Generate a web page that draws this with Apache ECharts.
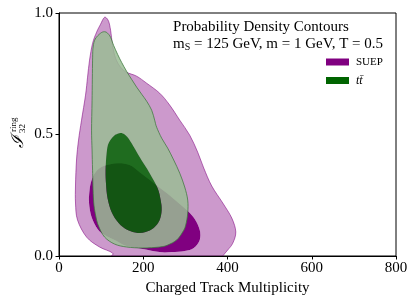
<!DOCTYPE html>
<html><head><meta charset="utf-8">
<script src="https://cdn.jsdelivr.net/npm/echarts@6/dist/echarts.min.js"></script>
<style>html,body{margin:0;padding:0;background:#fff}#c{width:416px;height:305px}</style>
</head><body><div id="c"></div>
<script>
// ---- data (x = charged track multiplicity, y = I_32^ring) ----
const xTicks = [0, 200, 400, 600, 800];
const yTicks = [0.0, 0.5, 1.0];
const seriesNames = ['SUEP', 'tt\u0304'];

// SUEP: outer (lower density) contour
const suepOuter = [
  [110.6,0.982],[117.7,0.966],[122.5,0.929],[127.2,0.867],[134.3,0.814],[146.2,0.777],
  [160.5,0.756],[184.3,0.740],[208.1,0.711],[239.0,0.670],[262.8,0.621],[286.6,0.559],
  [310.4,0.497],[329.3,0.427],[343.6,0.362],[362.6,0.288],[388.8,0.218],[410.2,0.156],
  [419.7,0.099],[412.6,0.053],[400.7,0.025],[388.8,0.0],[381.6,-0.025],[139.1,-0.025],
  [127.2,0.012],[96.3,0.037],[65.4,0.078],[44.0,0.148],[39.2,0.218],[39.2,0.292],
  [41.6,0.395],[46.4,0.477],[53.5,0.559],[63.0,0.662],[67.8,0.736],[72.5,0.806],
  [79.7,0.875],[89.2,0.921],[98.7,0.954],[105.8,0.978]
];
// SUEP: inner (higher density) contour
const suepInner = [
  [77.3,0.312],[86.8,0.345],[105.8,0.370],[139.1,0.382],[167.6,0.374],[191.4,0.345],
  [222.3,0.304],[255.6,0.259],[286.6,0.214],[305.6,0.185],[322.2,0.152],[334.1,0.107],
  [334.1,0.066],[319.8,0.033],[298.4,0.021],[267.5,0.016],[239.0,0.016],[198.6,0.029],
  [160.5,0.041],[136.7,0.062],[108.2,0.086],[91.6,0.111],[77.3,0.160],[71.3,0.218],
  [72.5,0.271]
];
// ttbar: outer contour
const ttOuter = [
  [108.2,0.923],[115.3,0.917],[122.5,0.900],[129.6,0.867],[139.1,0.830],[148.6,0.797],
  [160.5,0.760],[172.4,0.727],[184.3,0.695],[196.2,0.666],[208.1,0.637],[220.0,0.600],
  [227.1,0.559],[231.8,0.530],[243.7,0.485],[258.0,0.444],[272.3,0.395],[286.6,0.341],
  [298.4,0.284],[305.6,0.230],[305.6,0.177],[300.8,0.127],[293.7,0.099],[279.4,0.066],
  [258.0,0.045],[239.0,0.037],[198.6,0.033],[160.5,0.037],[132.0,0.049],[108.2,0.078],
  [93.9,0.123],[86.8,0.169],[82.0,0.230],[79.7,0.353],[78.5,0.436],[77.3,0.518],
  [78.5,0.641],[79.7,0.806],[81.0,0.860],[86.0,0.893],[98.7,0.917]
];
// ttbar: inner contour
const ttInner = [
  [148.6,0.506],[160.5,0.493],[172.4,0.464],[191.4,0.407],[215.2,0.341],[234.2,0.279],
  [241.3,0.230],[243.7,0.189],[239.0,0.148],[224.7,0.115],[205.7,0.099],[186.7,0.095],
  [162.9,0.107],[141.5,0.136],[124.8,0.181],[115.3,0.238],[111.8,0.292],[110.6,0.353],
  [113.0,0.423],[117.7,0.464],[129.6,0.493],[139.1,0.503]
];

// ---- helpers ----
const SERIF = '"Liberation Serif", "DejaVu Serif", serif';
function toPixels(api, pts) { return pts.map(p => api.coord(p)); }
function signedArea(p) {
  let a = 0;
  for (let i = 0; i < p.length; i++) { const q = p[(i + 1) % p.length]; a += p[i][0] * q[1] - q[0] * p[i][1]; }
  return a / 2;
}
function f(v) { return v.toFixed(2); }
function smoothPath(p) {
  const n = p.length;
  let d = 'M' + f(p[0][0]) + ' ' + f(p[0][1]);
  for (let i = 0; i < n; i++) {
    const p0 = p[(i - 1 + n) % n], p1 = p[i], p2 = p[(i + 1) % n], p3 = p[(i + 2) % n];
    const c1 = [p1[0] + (p2[0] - p0[0]) / 6, p1[1] + (p2[1] - p0[1]) / 6];
    const c2 = [p2[0] - (p3[0] - p1[0]) / 6, p2[1] - (p3[1] - p1[1]) / 6];
    d += ' C' + f(c1[0]) + ' ' + f(c1[1]) + ' ' + f(c2[0]) + ' ' + f(c2[1]) + ' ' + f(p2[0]) + ' ' + f(p2[1]);
  }
  return d + ' Z';
}
function bandPath(api, outer, inner) {
  const o = toPixels(api, outer);
  let i = toPixels(api, inner);
  if (Math.sign(signedArea(o)) === Math.sign(signedArea(i))) i = i.slice().reverse();
  return smoothPath(o) + ' ' + smoothPath(i);
}
function contourSeries(name, color, outer, inner, st) {
  return {
    type: 'custom', name: name, coordinateSystem: 'cartesian2d', clip: true,
    itemStyle: { color: color },
    encode: { x: 0, y: 1 },
    data: outer,
    renderItem: function (params, api) {
      if (params.dataIndex !== 0) return null;
      return {
        type: 'group',
        children: [
          { type: 'path', shape: { pathData: bandPath(api, outer, inner) }, style: { fill: st.outerFill, stroke: null } },
          { type: 'path', shape: { pathData: smoothPath(toPixels(api, outer)) }, style: { fill: null, stroke: st.outerStroke, lineWidth: 1 } },
          { type: 'path', shape: { pathData: smoothPath(toPixels(api, inner)) }, style: { fill: st.innerFill, stroke: null } }
        ]
      };
    }
  };
}

const chart = echarts.init(document.getElementById('c'), null, { renderer: 'canvas' });
chart.setOption({
  animation: false,
  backgroundColor: '#fff',
  textStyle: { fontFamily: SERIF },
  grid: { left: 59, right: 20, top: 13, bottom: 49, show: true, borderColor: '#000', borderWidth: 1, backgroundColor: 'transparent' },
  title: {
    right: 33, top: 19, padding: 0,
    text: 'Probability Density Contours\n{m|m}{s|S}{m| = 125 GeV, m = 1 GeV, T = 0.5}',
    textStyle: {
      fontFamily: SERIF, fontSize: 15, fontWeight: 'normal', color: '#000', lineHeight: 17,
      rich: {
        m: { fontFamily: SERIF, fontSize: 15, color: '#000', lineHeight: 17 },
        s: { fontFamily: SERIF, fontSize: 10, color: '#000', lineHeight: 17, padding: [6, 0, 0, 0] }
      }
    }
  },
  legend: {
    orient: 'vertical', left: 326, top: 56, padding: 0, itemGap: 6.5,
    itemWidth: 23, itemHeight: 7, icon: 'rect',
    data: seriesNames,
    formatter: function (n) { return n === 'SUEP' ? '{a|' + n + '}' : '{b|' + n + '}'; },
    textStyle: {
      fontFamily: SERIF, fontSize: 11, color: '#000', lineHeight: 12, padding: [0, 0, 0, 2],
      rich: {
        a: { fontFamily: SERIF, fontSize: 11, color: '#000', lineHeight: 12 },
        b: { fontFamily: SERIF, fontSize: 12, fontStyle: 'italic', color: '#000', lineHeight: 12 }
      }
    }
  },
  xAxis: {
    type: 'value', min: xTicks[0], max: xTicks[xTicks.length - 1], interval: xTicks[1] - xTicks[0], z: 10,
    name: 'Charged Track Multiplicity', nameLocation: 'middle', nameGap: 24,
    nameTextStyle: { fontFamily: SERIF, fontSize: 15, color: '#000' },
    axisLine: { lineStyle: { color: '#000', width: 1 } },
    axisTick: { show: true, inside: false, length: 3.5, lineStyle: { color: '#000' } },
    axisLabel: { margin: 5, fontFamily: SERIF, fontSize: 15, color: '#000' },
    splitLine: { show: false }
  },
  yAxis: {
    type: 'value', min: yTicks[0], max: yTicks[yTicks.length - 1], interval: yTicks[1] - yTicks[0], z: 10,
    axisLine: { lineStyle: { color: '#000', width: 1 } },
    axisTick: { show: true, inside: false, length: 3.5, lineStyle: { color: '#000' } },
    axisLabel: { margin: 6, fontFamily: SERIF, fontSize: 15, color: '#000', formatter: v => v.toFixed(1) },
    splitLine: { show: false }
  },
  graphic: [{
    type: 'group', x: 18.5, y: 148, rotation: Math.PI / 2,
    children: [
      { type: 'text', x: 0, y: 0, style: { text: '\u2110', font: 'italic 17px "DejaVu Serif", serif', fill: '#000', align: 'left', verticalAlign: 'middle' } },
      { type: 'text', x: 15, y: 4.5, style: { text: '32', font: '9px ' + SERIF, fill: '#000', align: 'left', verticalAlign: 'middle' } },
      { type: 'text', x: 16, y: -4.5, style: { text: 'ring', font: '9px ' + SERIF, fill: '#000', align: 'left', verticalAlign: 'middle' } }
    ]
  }],
  series: [
    contourSeries(seriesNames[0], '#800080', suepOuter, suepInner,
      { outerFill: 'rgba(128,0,128,0.4)', outerStroke: 'rgba(128,0,128,0.55)', innerFill: '#800080' }),
    contourSeries(seriesNames[1], '#006400', ttOuter, ttInner,
      { outerFill: 'rgba(154,188,148,0.85)', outerStroke: 'rgba(60,120,60,0.75)', innerFill: 'rgba(0,100,0,0.85)' })
  ]
});
</script></body></html>
